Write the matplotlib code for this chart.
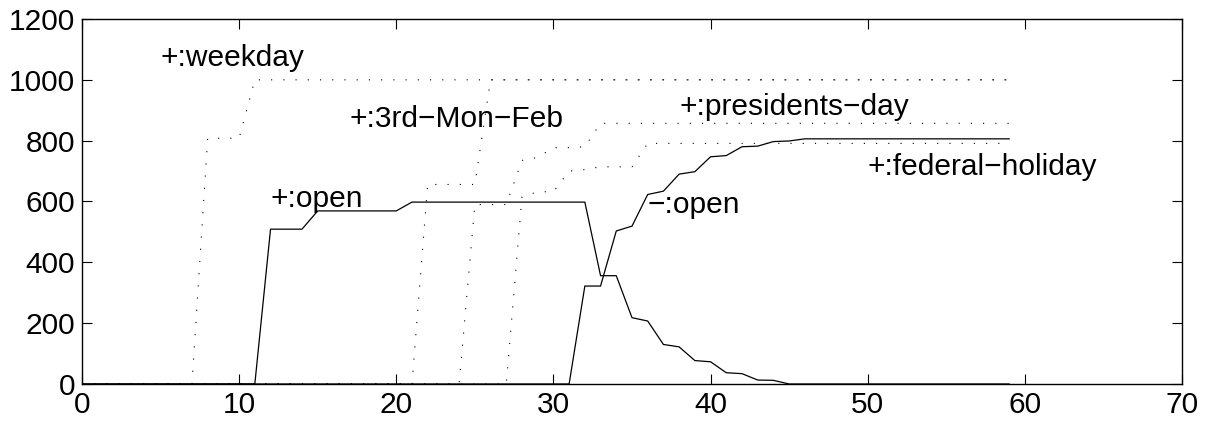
import numpy as np
import matplotlib
matplotlib.use('Agg')
import matplotlib.pyplot as plt

plt.rcParams['font.family'] = ['Liberation Sans', 'DejaVu Sans']

# step index 0..59
steps = list(range(60))

# dotted curves (literals added)
weekday = [0]*8 + [808]*3 + [1000]*49
third_mon_feb = [0]*22 + [656]*4 + [1000]*34
presidents_day = [0]*25 + [590]*3 + [735, 745, 777, 777, 780] + [857]*27
federal_holiday = [0]*28 + [615, 632, 632, 700, 705, 714, 714, 714] + [791]*24

# solid curves
pos_open = ([0]*12 + [509]*3 + [569]*6 + [598]*12 +
            [356, 356, 218, 207, 130, 122, 77, 73, 37, 34, 13, 12] + [0]*15)
neg_open = ([0]*32 + [322, 322, 503, 519, 623, 634, 690, 698, 747, 751,
                      780, 782, 797, 799] + [806]*14)

# label text and where it sits (x, y in data units)
labels = ['+:weekday', '+:3rd\u2212Mon\u2212Feb', '+:presidents\u2212day',
          '+:federal\u2212holiday', '+:open', '\u2212:open']
label_x = [5, 17, 38, 50, 12, 36]
label_y = [1072, 872, 912, 712, 608, 588]

fig = plt.figure(figsize=(12.07, 4.25), dpi=100)
ax = fig.add_axes([0.0679, 0.0965, 0.9114, 0.8588])

dots = dict(color='black', lw=0.8, linestyle=(0, (1, 10)))
for ys in [weekday, third_mon_feb, presidents_day, federal_holiday]:
    ax.plot(steps, ys, **dots)

ax.plot(steps, pos_open, color='black', lw=0.9)
ax.plot(steps, neg_open, color='black', lw=0.9)

for t, x, y in zip(labels, label_x, label_y):
    ax.text(x, y, t, fontsize=21.5, ha='left', va='center')

ax.set_xlim(0, 70)
ax.set_ylim(0, 1200)
ax.set_xticks(np.arange(0, 71, 10))
ax.set_yticks(np.arange(0, 1201, 200))
ax.tick_params(direction='in', length=7.5, width=0.8, labelsize=21.5,
               top=True, right=True, pad=5)
for s in ax.spines.values():
    s.set_linewidth(1.0)

fig.savefig('out.png', dpi=100)
